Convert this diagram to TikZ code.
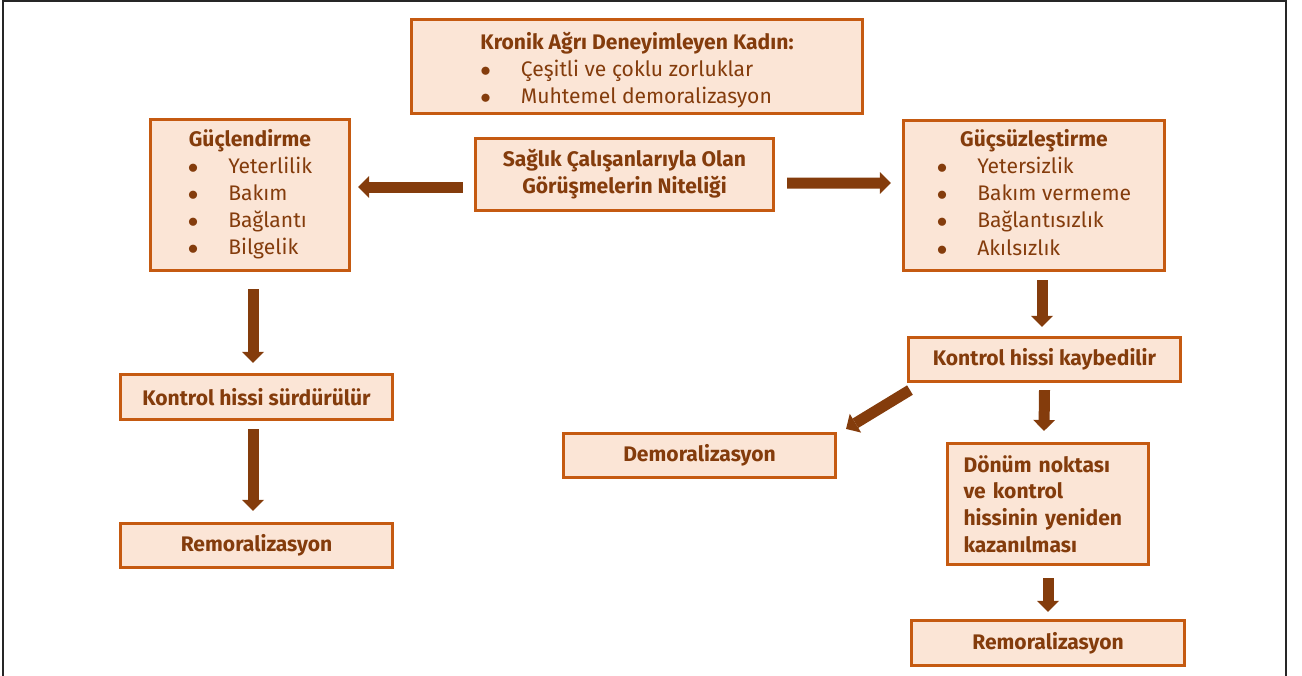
\documentclass[tikz,border=0pt]{standalone}
\usepackage{fontspec}
\setmainfont{Fira Sans}
\usetikzlibrary{arrows.meta}
\definecolor{kenar}{HTML}{C55A11}
\definecolor{dolgu}{HTML}{FBE5D6}
\definecolor{kahve}{HTML}{843C0C}
\newcommand{\madde}{\ensuremath{\bullet}}

\begin{document}
\begin{tikzpicture}[x=0.02cm, y=-0.02cm,
  kutu/.style={draw=kenar, fill=dolgu, line width=1.8pt, text=kahve, inner sep=0pt,
    font=\fontsize{12}{15.4}\selectfont},
  tekli/.style={kutu, font=\fontsize{12}{15.4}\selectfont\bfseries, minimum width=5.44cm, minimum height=0.9cm},
  ok/.style={kahve, line width=0.22cm, -{Triangle[width=0.44cm,length=0.22cm,line width=0pt]}}]
\useasboundingbox (0,0) rectangle (1302,676);
\draw[line width=1.1pt, black!85] (3,676) -- (3,1) -- (1286,1) -- (1286,676);

\node[kutu, minimum width=9.02cm, minimum height=1.88cm] (kadin) at (637,66.5)
  {\begin{tabular}{@{}l@{\hspace{17pt}}l@{}}\multicolumn{2}{@{}c@{}}{\rule{0pt}{16.5pt}\bfseries Kronik Ağrı Deneyimleyen Kadın:}\\
   \madde & Çeşitli ve çoklu zorluklar\\ \madde & Muhtemel demoralizasyon\end{tabular}};
\node[kutu, font=\fontsize{12}{15.4}\selectfont\bfseries, align=center, minimum width=5.96cm, minimum height=1.44cm] (niteli) at (624.5,174.5)
  {Sağlık Çalışanlarıyla Olan\\Görüşmelerin Niteliği};
\node[kutu, minimum width=3.98cm, minimum height=3.02cm] (guc) at (250,195)
  {\begin{tabular}{@{}l@{\hspace{17pt}}l@{}}\multicolumn{2}{@{}c@{}}{\bfseries Güçlendirme}\\
   \madde & Yeterlilik\\ \madde & Bakım\\ \madde & Bağlantı\\ \madde & Bilgelik\end{tabular}};
\node[kutu, minimum width=5.22cm, minimum height=3.0cm] (gucsuz) at (1034,195.5)
  {\begin{tabular}{@{}l@{\hspace{17pt}}l@{}}\multicolumn{2}{@{}c@{}}{\bfseries Güçsüzleştirme}\\
   \madde & Yetersizlik\\ \madde & Bakım vermeme\\ \madde & Bağlantısızlık\\ \madde & Akılsızlık\end{tabular}};

\node[tekli] (surdur) at (256.5,397) {Kontrol hissi sürdürülür};
\node[tekli, minimum height=0.88cm] (remorL) at (256.5,545.5) {Remoralizasyon};
\node[tekli, minimum height=0.88cm] (kaybed) at (1044.5,359.5) {Kontrol hissi kaybedilir};
\node[tekli, minimum height=0.88cm] (demor) at (699.5,455.5) {Demoralizasyon};
\node[kutu, font=\fontsize{12}{15.2}\selectfont\bfseries, align=left, text width=3.38cm, inner xsep=0.32cm,
  minimum height=2.42cm] (donum) at (1048,504)
  {Dönüm noktası\\ve kontrol\\hissinin yeniden\\kazanılması};
\node[tekli, minimum width=5.46cm] (remorR) at (1048,643) {Remoralizasyon};

% oklar
\draw[ok] ([shift={(-11,12.5)}]niteli.west) -- ([shift={(7,-8)}]guc.east);
\draw[ok] ([shift={(12,8.5)}]niteli.east) -- ([shift={(-11,-12.5)}]gucsuz.west);
\draw[ok] ([shift={(3,17)}]guc.south) -- ([shift={(-3.5,-10)}]surdur.north);
\draw[ok] ([shift={(-3.5,8)}]surdur.south) -- ([shift={(-3.5,-11)}]remorL.north);
\draw[ok] ([shift={(8,8)}]gucsuz.south) -- ([shift={(-2.5,-9)}]kaybed.north);
\draw[ok] ([shift={(0,7)}]kaybed.south) -- ([shift={(-4,-11)}]donum.north);
\draw[ok] ([shift={(3,7)}]kaybed.south west) -- ([shift={(9,-3)}]demor.north east);
\draw[ok] ([shift={(0,12)}]donum.south) -- ([shift={(0,-7)}]remorR.north);
\end{tikzpicture}
\end{document}
